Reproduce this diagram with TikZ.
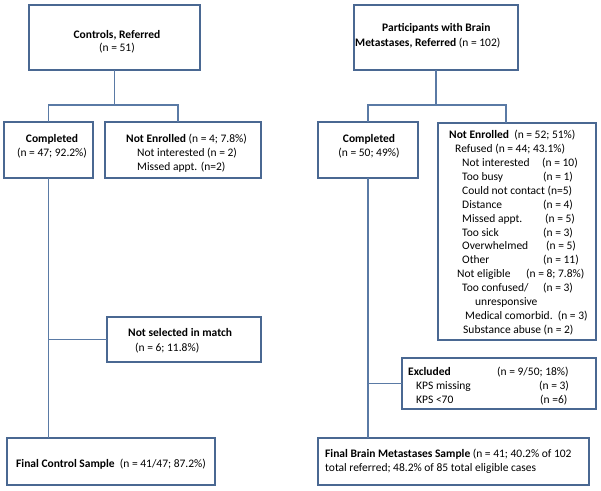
\documentclass[tikz,border=0pt]{standalone}
\usepackage{fontspec}
\setmainfont{Carlito}
\definecolor{boxc}{HTML}{4A6892}
\definecolor{linec}{HTML}{5A7AA5}
\newcommand\rowsL[1]{\begin{tabular}[t]{@{}l@{}}#1\end{tabular}}
\newcommand\rowsC[1]{\begin{tabular}[t]{@{}c@{}}#1\end{tabular}}
\begin{document}
\begin{tikzpicture}[x=1pt,y=-1pt,
  box/.style={draw=boxc,line width=2pt,inner sep=0pt,outer sep=0pt,anchor=north west},
  conn/.style={draw=linec,line width=1.3pt},
  txt/.style={inner sep=0pt,anchor=base west,font=\fontsize{11.5}{#1}\selectfont},
  txt/.default=14,
  ctxt/.style={txt=#1,anchor=base},
  ctxt/.default=14]
\useasboundingbox[fill=white] (0,0) rectangle (601,490);

% ---------- left column boxes ----------
\node[box,minimum width=171pt,minimum height=65pt] (ctrl) at (29,5) {};
\node[box,minimum width=89pt,minimum height=56pt] (comp1) at (4,122) {};
\node[box,minimum width=156pt,minimum height=56pt] (ne1) at (105,122) {};
\node[box,minimum width=154pt,minimum height=45pt] (nsel) at (107,317) {};
\node[box,minimum width=208pt,minimum height=47pt] (fin1) at (7,438) {};

% ---------- right column boxes ----------
\node[box,minimum width=164pt,minimum height=65pt] (brain) at (354,5) {};
\node[box,minimum width=100pt,minimum height=56pt] (comp2) at (318,122) {};
\node[box,minimum width=158pt,minimum height=217pt] (ne2) at (438,123) {};
\node[box,minimum width=194pt,minimum height=51pt] (excl) at (402,358) {};
\node[box,minimum width=271pt,minimum height=47pt] (fin2) at (318,438) {};

% ---------- texts ----------
\node[ctxt=13] (ctrlT) at (117,38) {\rowsC{\textbf{Controls, Referred}\\(n = 51)}};
\node[ctxt=14.5] (comp1T) at (52,142) {\rowsC{\textbf{Completed}\\(n = 47; 92.2\%)}};
\node[txt] (ne1T) at (126,142) {\rowsL{\textbf{Not Enrolled} (n = 4; 7.8\%)\\
  \hspace*{11pt}Not interested (n = 2)\\
  \hspace*{11pt}Missed appt. (n=2)}};
\node[txt=15] (nselT) at (128,336.5) {\rowsL{\textbf{Not selected in match}\\
  \hspace*{7pt}(n = 6; 11.8\%)}};
\node[txt] (fin1T) at (16,467.5) {\textbf{Final Control Sample}\ \ (n = 41/47; 87.2\%)};

\node[txt=15] (brainT) at (355,31.5) {\rowsL{\hspace*{27pt}\textbf{Participants with Brain}\\
  \textbf{Metastases, Referred} (n = 102)}};
\node[ctxt=14.5] (comp2T) at (369,142) {\rowsC{\textbf{Completed}\\(n = 50; 49\%)}};
\node[txt=13.93] (ne2T) at (449,138.5) {\rowsL{%
  \textbf{Not Enrolled}\ \ (n = 52; 51\%)\\
  \hspace*{6pt}Refused (n = 44; 43.1\%)\\
  \hspace*{13pt}\makebox[80pt][l]{Not interested}(n = 10)\\
  \hspace*{13pt}\makebox[81pt][l]{Too busy}(n = 1)\\
  \hspace*{13pt}Could not contact (n=5)\\
  \hspace*{13pt}\makebox[81pt][l]{Distance}(n = 4)\\
  \hspace*{13pt}\makebox[83pt][l]{Missed appt.}(n = 5)\\
  \hspace*{13pt}\makebox[81pt][l]{Too sick}(n = 3)\\
  \hspace*{13pt}\makebox[84pt][l]{Overwhelmed}(n = 5)\\
  \hspace*{13pt}\makebox[81pt][l]{Other}(n = 11)\\
  \hspace*{8pt}\makebox[69pt][l]{Not eligible}(n = 8; 7.8\%)\\
  \hspace*{13pt}\makebox[81pt][l]{Too confused/}(n = 3)\\
  \hspace*{26pt}unresponsive\\
  \hspace*{16pt}Medical comorbid.\ \ (n = 3)\\
  \hspace*{14pt}Substance abuse (n = 2)}};
\node[txt] (exclT) at (408,375) {\rowsL{%
  \makebox[89pt][l]{\textbf{Excluded}}(n = 9/50; 18\%)\\
  \hspace*{8pt}\makebox[123pt][l]{KPS missing}(n = 3)\\
  \hspace*{8pt}\makebox[124pt][l]{KPS <70}(n =6)}};
\node[txt] (fin2T) at (325,457) {\rowsL{\textbf{Final Brain Metastases Sample} (n = 41; 40.2\% of 102\\
  total referred; 48.2\% of 85 total eligible cases}};

% ---------- connectors, left ----------
\coordinate (jl) at (ctrl.south |- 0,105);
\coordinate (ne1top) at (178,122);
\draw[conn] (ctrl.south) -- (jl);
\draw[conn] (comp1.north) |- (jl) -| (ne1top);
\draw[conn] (comp1.south) -- (fin1.north -| comp1.south);
\draw[conn] (comp1.south |- nsel.west) -- (nsel.west);

% ---------- connectors, right ----------
\coordinate (jr) at (brain.south |- 0,105);
\coordinate (ne2top) at (506,123);
\draw[conn] (brain.south) -- (jr);
\draw[conn] (comp2.north) |- (jr) -| (ne2top);
\draw[conn] (comp2.south) -- (fin2.north -| comp2.south);
\draw[conn] (comp2.south |- excl.west) -- (excl.west);
\end{tikzpicture}
\end{document}
